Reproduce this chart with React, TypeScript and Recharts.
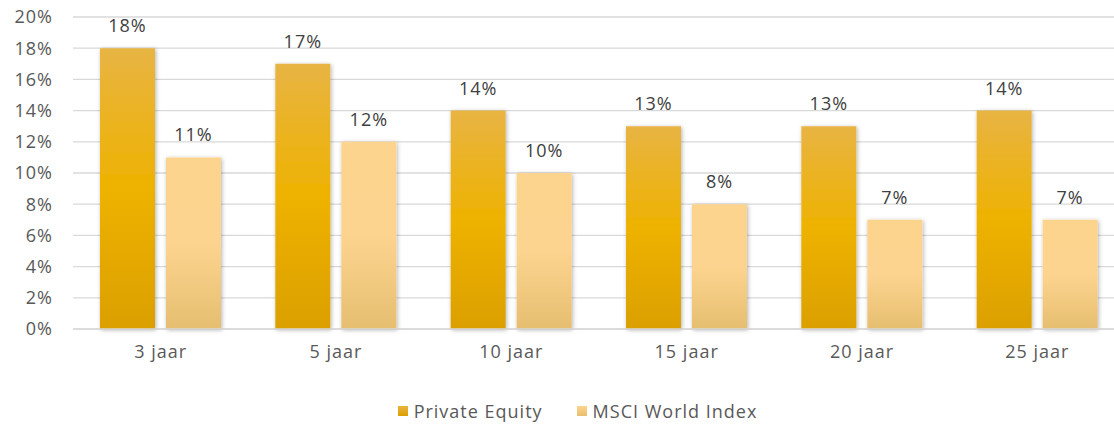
import React from "react";
import { BarChart, Bar, XAxis, YAxis, CartesianGrid, Legend, LabelList } from "recharts";

const categories = ["3 jaar", "5 jaar", "10 jaar", "15 jaar", "20 jaar", "25 jaar"];
const privateEquity = [18, 17, 14, 13, 13, 14];
const msciWorld = [11, 12, 10, 8, 7, 7];
const yTicks = [0, 2, 4, 6, 8, 10, 12, 14, 16, 18, 20];

const data = categories.map((c, i) => ({ name: c, pe: privateEquity[i], msci: msciWorld[i] }));

const FONT = "'Open Sans', sans-serif";
const FS = 18;
const LS = 1;

const LegendContent = () => (
  <div style={{ display: "flex", justifyContent: "center", alignItems: "center", height: 40, fontFamily: FONT, fontSize: FS, letterSpacing: LS, color: "#595959", paddingTop: 12, paddingLeft: 30, boxSizing: "border-box" }}>
    <span style={{ display: "inline-flex", alignItems: "center", marginRight: 34 }}>
      <span style={{ width: 10, height: 10, background: "linear-gradient(#E8B440, #DBA000)", marginRight: 6 }} />
      Private Equity
    </span>
    <span style={{ display: "inline-flex", alignItems: "center" }}>
      <span style={{ width: 10, height: 10, background: "linear-gradient(#FDD48F, #E8BE6E)", marginRight: 6 }} />
      MSCI World Index
    </span>
  </div>
);

const tickStyle = { fill: "#595959", fontSize: FS, fontFamily: FONT, letterSpacing: LS };
const labelStyle = { fill: "#404040", fontSize: FS, fontFamily: FONT, letterSpacing: LS };

export default function App() {
  return (
    <div style={{ position: "absolute", left: 0, top: 0, width: 1114, height: 425, background: "#fff", overflow: "hidden" }}>
      <BarChart
        width={1125}
        height={425}
        data={data}
        margin={{ top: 17, right: 0, left: 0, bottom: 0 }}
        barGap={11}
        barCategoryGap={27}
      >
        <defs>
          <linearGradient id="gPE" x1="0" y1="0" x2="0" y2="1">
            <stop offset="0%" stopColor="#E8B443" />
            <stop offset="50%" stopColor="#EEB200" />
            <stop offset="100%" stopColor="#DBA000" />
          </linearGradient>
          <linearGradient id="gMS" x1="0" y1="0" x2="0" y2="1">
            <stop offset="0%" stopColor="#FDD48E" />
            <stop offset="50%" stopColor="#FDD48F" />
            <stop offset="100%" stopColor="#E6BE70" />
          </linearGradient>
          <filter id="shadow" x="-20%" y="-5%" width="140%" height="110%">
            <feDropShadow dx="1" dy="1" stdDeviation="2" floodColor="#000" floodOpacity="0.3" />
          </filter>
        </defs>
        <CartesianGrid vertical={false} stroke="#D9D9D9" strokeWidth={1.3} />
        <XAxis
          dataKey="name"
          height={56}
          tickLine={false}
          axisLine={{ stroke: "#D9D9D9", strokeWidth: 1.3 }}
          tickSize={0}
          tickMargin={16}
          tick={tickStyle}
        />
        <YAxis
          width={73}
          domain={[0, 20]}
          ticks={yTicks}
          interval={0}
          tickFormatter={(v: number) => `${v}%`}
          axisLine={false}
          tickLine={false}
          tickSize={0}
          tickMargin={20}
          tick={tickStyle}
        />
        <Legend verticalAlign="bottom" height={40} content={<LegendContent />} />
        <Bar dataKey="pe" name="Private Equity" fill="url(#gPE)" filter="url(#shadow)" isAnimationActive={false}>
          <LabelList dataKey="pe" position="top" offset={16} formatter={(v: number) => `${v}%`} style={labelStyle} />
        </Bar>
        <Bar dataKey="msci" name="MSCI World Index" fill="url(#gMS)" filter="url(#shadow)" isAnimationActive={false}>
          <LabelList dataKey="msci" position="top" offset={16} formatter={(v: number) => `${v}%`} style={labelStyle} />
        </Bar>
      </BarChart>
    </div>
  );
}
